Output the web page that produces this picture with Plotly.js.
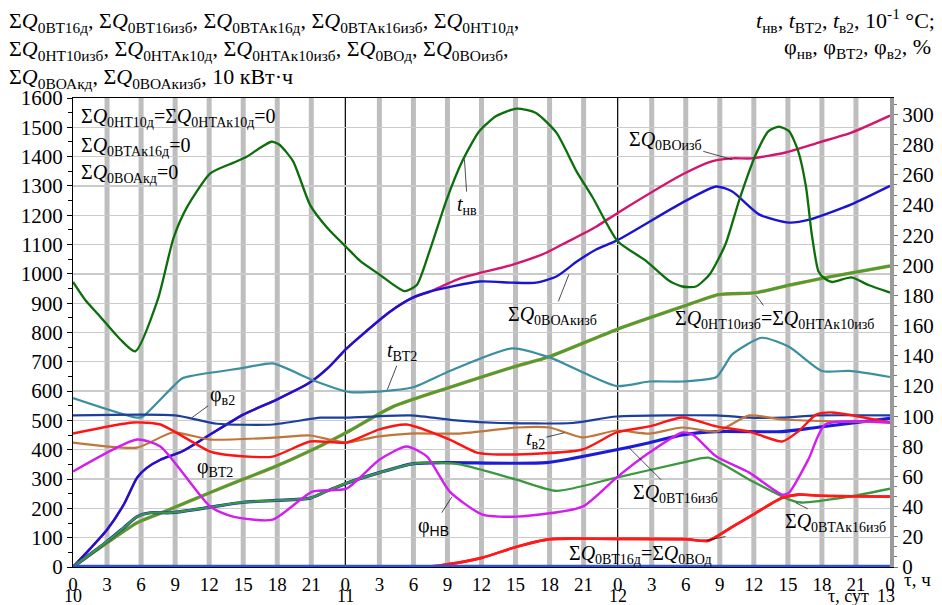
<!DOCTYPE html>
<html><head><meta charset="utf-8">
<script src="https://cdn.plot.ly/plotly-3.0.1.min.js"></script>
<style>body{margin:0;background:#fff}#c{width:942px;height:605px}</style>
</head><body><div id="c"></div><script>
// ---- axis ticks ----
const hourTicks = [0,3,6,9,12,15,18,21,24,27,30,33,36,39,42,45,48,51,54,57,60,63,66,69,72];
const hourLabels = ["0","3","6","9","12","15","18","21","0","3","6","9","12","15","18","21","0","3","6","9","12","15","18","21","0"];
const dayTicks = [0,24,48];
const dayLabels = ["10","11","12"];
const leftTicks = [0,100,200,300,400,500,600,700,800,900,1000,1100,1200,1300,1400,1500,1600];
const rightTicks = [0,20,40,60,80,100,120,140,160,180,200,220,240,260,280,300];

// ---- right axis series (10^-1 °C, %) ----
const h_tnv = [0,1.08,2.4,4.16,5.48,7.5,8.85,10,12.1,14.1,15.3,16.5,17.5,18.2,19.4,20.9,22.4,24.1,25.3,27,29.2,30.3,31.4,32.9,34.3,35.8,37.3,39.1,40.8,42.6,44.4,45.8,48,50.5,52.5,53.7,54.9,56.1,57.5,58.7,60.2,61.3,62.2,63.1,63.9,64.6,65.1,65.7,66.3,66.9,68.6,70.1,72];
const tnv   = [189,177,166,151,143,178,218,238,261,268,272,278,282,280,269,240,225,212,203,194,183,187,209,243,269,289,299,304,301,288,262,245,216,203,190,186,186,194,214,243,274,289,292,289,276,252,221,196,191,189,192,187,182];

const h_tvt2 = [0,5.65,6.2,9.6,10.6,15,17.6,21.1,24.4,29.9,33.2,38.7,42,47.9,50.8,53.7,56.7,58.1,60.7,63.1,66,68.4,72];
const tvt2   = [112,99,100,125,127,132,135,124,116,119,130,145,139,120,123,123,126,141,152,146,130,130,126];

const h_fv2 = [0,9,12.7,17.6,21.8,24.1,29.7,34,37.6,44,47.9,56.7,59.6,62.5,65.5,72];
const fv2   = [100.5,100.5,95,94.5,99,99,100.5,97,95.5,95.5,99.8,100.5,99,99,100.5,100.5];

const h_fvt2 = [0,5.3,7.7,12.1,14.1,17.6,20.9,24.1,27,29.4,33.2,35.6,39.1,44.9,47.9,50.8,53.7,56.7,59.6,62.5,63.9,65.5,66.9,72];
const fvt2   = [88.5,95.8,94.5,76.5,73.9,73.2,83.2,82.5,91.2,94.5,84.5,75.9,74.6,77.9,89.2,93.2,99.1,93.2,89.8,83.2,89.8,101,102.5,95.8];

const h_tv2 = [0,5.65,8.8,12.1,18,20.9,24.1,26.8,29.7,34.1,39.1,42,44.9,47.9,50.8,53.7,56.7,59.6,62.5,72];
const tv2   = [82.5,79.2,89.2,84.5,85.9,87.2,82.5,86.5,88.5,88.5,92.5,92.5,85.9,90.5,88.5,92.5,89.8,100.5,97.8,95.8];

const h_fnv = [0,5.65,7.7,12.1,14.1,17.6,21.1,24.1,27,29.4,31.2,33.2,36.1,39.1,44.9,47.9,50.8,53.7,54.6,56.7,59.6,62.5,63.1,64.8,66.3,72];
const fnv   = [63.3,84.5,79.9,40,33.4,31.4,50,52,71.2,79.9,73.2,50,34.7,33.4,40,59.3,75.9,89.2,87.9,73.2,62.6,48,49.3,71.2,94.5,95.8];

// ---- left axis series (10 kWh) ----
const h_voakizb = [0,1.5,3,4.5,5.65,6.5,7.7,9.6,11.8,15,18,20.9,22.5,24.1,25.5,27.9,29.9,31.4,35.8,38.7,40.8,42.6,44.4,46.1,48,53.7,56.7,58.1,60.5,63.1,64.9,68.6,72];
const voakizb   = [0,62,127,215,305,338,366,394,445,520,572,630,680,745,793,870,918,939,974,970,970,991,1042,1083,1115,1243,1298,1281,1202,1175,1185,1237,1300];

const h_voizb = [0,1.5,3,4.5,5.65,6.5,7.7,9.6,11.8,15,18,20.9,22.5,24.1,25.5,27.9,29.9,31.4,34.3,38.7,41.7,43.1,46.1,48,53.7,56.3,58.1,59.8,62.8,65.7,68.6,72];
const voizb   = [0,62,127,215,305,338,366,394,445,520,572,630,680,745,793,870,918,939,987,1031,1072,1100,1161,1208,1339,1384,1394,1394,1414,1448,1482,1540];

const h_nt10izb = [0,2.14,5.65,8,12.1,14.9,17.6,21.1,24.1,28.2,33.2,38.7,42,47.9,53.7,56.9,60.2,63.3,66.3,72];
const nt10izb   = [0,59,151,188,254,298,339,400,459,547,613,681,718,810,888,929,936,963,987,1027];
const ntak10izb = nt10izb;

const h_vtak16izb = [0,3,4.5,5.65,6.8,8.6,12.1,15,17.9,20.9,22.3,24.1,27,29.9,32,34.1,39.1,42.6,47.9,53.7,56,59.6,63.1,64.2,68.4,72];
const vtak16izb   = [0,87,135,172,185,185,204,221,227,235,258,286,322,352,356,350,298,260,305,356,373,298,230,220,240,267];

const h_vt16izb = [0,3,4.5,5.65,6.8,8.6,12.1,15,17.9,20.9,22.3,24.1,27,29.9,33.2,41.7,47.9,50.8,53.7,56.7,62.5,65.5,72];
const vt16izb   = [0,87,135,172,185,185,204,221,227,235,258,286,322,352,356,356,400,424,451,462,462,476,507];

const h_vt16d = [0,31,34,36.1,39.1,42,44,47.9,54,56,58.1,60.2,62.5,63.9,66,72];
const vt16d   = [0,0,15,32,69,95,97,96,95,90,137,185,236,247,243,240];
const vod     = vt16d;

const h_zero = [0,72];
const zeroQ  = [0,0]; // ΣQ0НТ10д = ΣQ0НТАк10д = ΣQ0ВТАк16д = ΣQ0ВОАкд = 0

// ---- build ----
const F = "Liberation Serif";
function tr(x, y, color, width, axis, name){
  return {x:x, y:y, type:'scatter', mode:'lines', name:name, yaxis:axis,
    line:{color:color, width:width, shape:'spline', smoothing:0.6}, hoverinfo:'skip'};
}
const traces = [
  tr(h_tnv, tnv, '#0b6e0b', 2.3, 'y2', 'tнв'),
  tr(h_tvt2, tvt2, '#3b8fa0', 2.2, 'y2', 'tВТ2'),
  tr(h_voizb, voizb, '#d4146e', 2.4, 'y', 'ΣQ0ВОизб'),
  tr(h_voakizb, voakizb, '#1a14d0', 2.4, 'y', 'ΣQ0ВОАкизб'),
  tr(h_nt10izb, ntak10izb, '#b0862e', 3.4, 'y', 'ΣQ0НТАк10изб'),
  tr(h_nt10izb, nt10izb, '#45a235', 2.3, 'y', 'ΣQ0НТ10изб'),
  tr(h_fv2, fv2, '#1c3f9e', 2.2, 'y2', 'φв2'),
  tr(h_tv2, tv2, '#c27538', 2.2, 'y2', 'tв2'),
  tr(h_vt16izb, vt16izb, '#1c1cd6', 3.2, 'y', 'ΣQ0ВТ16изб'),
  tr(h_vtak16izb, vtak16izb, '#3a983c', 2.3, 'y', 'ΣQ0ВТАк16изб'),
  tr(h_fvt2, fvt2, '#ff1414', 2.4, 'y2', 'φВТ2'),
  tr(h_fnv, fnv, '#d21cf0', 2.4, 'y2', 'φнв'),
  tr(h_vt16d, vod, '#ff1a1a', 2.6, 'y', 'ΣQ0ВОд'),
  tr(h_vt16d, vt16d, '#ff1a1a', 2.6, 'y', 'ΣQ0ВТ16д'),
  {x:h_zero, y:zeroQ, type:'scatter', mode:'lines', yaxis:'y', line:{color:'#3050e8', width:4.5}, hoverinfo:'skip', cliponaxis:false}
];

// grid shapes
const shapes = [];
hourTicks.forEach(function(h){
  if (h === 0 || h === 72) return;
  if (h % 24 === 0) {
    shapes.push({type:'line', xref:'x', yref:'paper', x0:h, x1:h, y0:0, y1:1, layer:'between', line:{color:'#000', width:1.2}});
  } else {
    shapes.push({type:'line', xref:'x', yref:'paper', x0:h, x1:h, y0:0, y1:1, layer:'between', line:{color:'#bebebe', width:5}});
  }
});
shapes.push({type:'line', xref:'paper', yref:'y', x0:0, x1:1, y0:1300, y1:1300, layer:'between', line:{color:'#8a8a8a', width:1.2}});

// pixel helpers for layout text
const PL=73, PR=890, PT=98, PB=567;
function X(px){ return (px-PL)/(PR-PL); }
function Y(py){ return (PB-py)/(PB-PT); }

const ann = [];
function txt(px, py, t, xa, size){
  ann.push({xref:'paper', yref:'paper', x:X(px), y:Y(py), text:t, showarrow:false, xanchor:xa||'left', yanchor:'middle', font:{family:F, size:size||20, color:'#000'}});
}
const Q = 'Σ<i>Q</i>';
txt(7, 22, Q+'<sub>0ВТ16д</sub>, '+Q+'<sub>0ВТ16изб</sub>, '+Q+'<sub>0ВТАк16д</sub>, '+Q+'<sub>0ВТАк16изб</sub>, '+Q+'<sub>0НТ10д</sub>,', 'left', 22);
txt(7, 50, Q+'<sub>0НТ10изб</sub>, '+Q+'<sub>0НТАк10д</sub>, '+Q+'<sub>0НТАк10изб</sub>, '+Q+'<sub>0ВОд</sub>, '+Q+'<sub>0ВОизб</sub>,', 'left', 22);
txt(7, 78, Q+'<sub>0ВОАкд</sub>, '+Q+'<sub>0ВОАкизб</sub>, 10 кВт·ч', 'left', 22);
txt(937, 21, '<i>t</i><sub>нв</sub>, <i>t</i><sub>ВТ2</sub>, <i>t</i><sub>в2</sub>, 10<sup>-1</sup> °C;', 'right', 22);
txt(933, 48, 'φ<sub>нв</sub>, φ<sub>ВТ2</sub>, φ<sub>в2</sub>, %', 'right', 22);
txt(79, 117, Q+'<sub>0НТ10д</sub>=' + Q + '<sub>0НТАк10д</sub>=0');
txt(79, 146, Q+'<sub>0ВТАк16д</sub>=0');
txt(79, 173, Q+'<sub>0ВОАкд</sub>=0');
// x axis extras
dayTicks.forEach(function(d, i){
  ann.push({xref:'x', yref:'paper', x:d, y:Y(596), text:dayLabels[i], showarrow:false, xanchor:'center', yanchor:'middle', font:{family:F, size:18, color:'#000'}});
});
txt(848, 596, 'τ, сут', 'center', 18);
txt(886, 596, '13', 'center', 18);
txt(918, 579, 'τ, ч', 'center', 19);

// labels with leader lines
function lab(h, v, ax, ay, t){
  ann.push({xref:'x', yref:'y', x:h, y:v, ax:ax, ay:ay, text:t, showarrow:true, arrowhead:0, arrowwidth:0.7, arrowcolor:'#000', standoff:0, font:{family:F, size:20, color:'#000'}});
}
lab(34.5, 1390, 3, 46, '<i>t</i><sub>нв</sub>');
lab(43.7, 998, -16, 41, Q+'<sub>0ВОАкизб</sub>');
lab(58.1, 1390, -67, -19, Q+'<sub>0ВОизб</sub>');
lab(60.2, 926, 18, 24, Q+'<sub>0НТ10изб</sub>='+Q+'<sub>0НТАк10изб</sub>');
lab(27.7, 605, 15, -38, '<i>t</i><sub>ВТ2</sub>');
lab(10.5, 510, 30, -22, 'φ<sub>в2</sub>');
lab(14.3, 383, -20, 13, 'φ<sub>ВТ2</sub>');
lab(43.3, 458, -29, 7, '<i>t</i><sub>в2</sub>');
lab(33.4, 240, -19, 30, 'φ<sub><span style="font-family:Liberation Sans">НВ</span></sub>');
lab(49.0, 407, 46, 46, Q+'<sub>0ВТ16изб</sub>');
lab(63.7, 219, 40, 20, Q+'<sub>0ВТАк16изб</sub>');
lab(57.5, 104, -85, 18, Q+'<sub>0ВТ16д</sub>='+Q+'<sub>0ВОд</sub>');

const layout = {
  width:942, height:605,
  margin:{l:PL, r:942-PR, t:PT, b:605-PB, pad:0},
  paper_bgcolor:'#fff', plot_bgcolor:'#fff',
  showlegend:false,
  font:{family:F, color:'#000'},
  xaxis:{range:[0,72], tickvals:hourTicks, ticktext:hourLabels, showgrid:false, zeroline:false,
    showline:true, mirror:true, linecolor:'#000', linewidth:1, ticks:'', tickfont:{family:F, size:19, color:'#000'}},
  yaxis:{range:[0,1600], tickvals:leftTicks, showgrid:true, gridcolor:'#cacaca', gridwidth:1.3, zeroline:false,
    showline:true, linecolor:'#000', linewidth:1, ticks:'outside', ticklen:5, tickcolor:'#000',
    minor:{dtick:50, ticks:'outside', ticklen:4, tickcolor:'#000', showgrid:false},
    tickfont:{family:F, size:21, color:'#000'}},
  yaxis2:{range:[0,311], tickvals:rightTicks, overlaying:'y', side:'right', showgrid:false, zeroline:false,
    showline:true, linecolor:'#9a9a9a', linewidth:4, ticks:'outside', ticklen:4, tickcolor:'#777',
    minor:{dtick:20/3, ticks:'outside', ticklen:3, tickcolor:'#777'},
    tickfont:{family:F, size:21, color:'#000'}},
  shapes:shapes, annotations:ann
};
Plotly.newPlot('c', traces, layout, {staticPlot:true, displayModeBar:false});
</script></body></html>
